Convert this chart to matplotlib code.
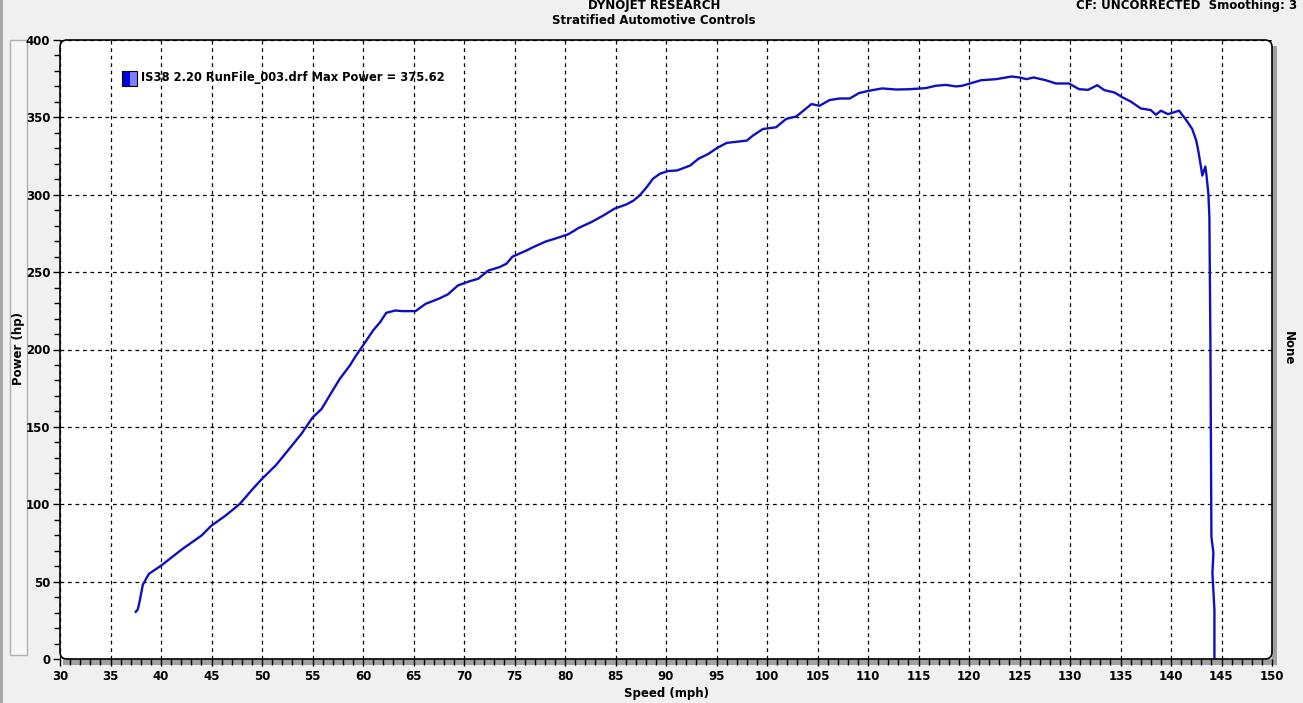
import matplotlib
matplotlib.use("Agg")
import matplotlib.pyplot as plt
from matplotlib.patches import FancyBboxPatch, Rectangle
from matplotlib.ticker import MultipleLocator

# ── data ───────────────────────────────────────────────────────────────────────
speed_mph = [37.5, 37.7, 37.9, 38.2, 38.8, 40.0, 42.1, 44.0, 45.0, 46.4,
             47.8, 49.1, 50.0, 51.4, 52.7, 53.9, 55.0, 55.9, 56.7, 57.7,
             58.7, 59.3, 60.0, 61.0, 61.7, 62.3, 63.2, 63.9, 65.2, 66.2,
             67.5, 68.4, 69.4, 70.5, 71.4, 72.4, 73.5, 74.2, 74.8, 76.2,
             76.8, 78.1, 79.0, 80.3, 80.8, 81.3, 82.6, 83.8, 84.9, 86.1,
             86.8, 87.4, 88.1, 88.7, 89.4, 90.2, 91.1, 92.4, 93.2, 94.2,
             95.0, 96.0, 98.0, 98.6, 99.6, 100.9, 101.9, 102.9, 103.6, 104.4,
             105.2, 106.2, 107.2, 108.2, 109.1, 110.1, 111.4, 112.8, 114.1, 115.7,
             116.7, 117.7, 118.7, 119.3, 120.1, 121.2, 122.7, 124.2, 125.0, 125.7,
             126.4, 127.6, 128.6, 129.9, 130.9, 131.8, 132.7, 133.4, 134.4, 135.2,
             136.0, 137.0, 138.0, 138.5, 139.0, 139.7, 140.8, 141.5, 142.1, 142.5,
             142.7, 143.0, 143.1, 143.4, 143.5, 143.7, 143.8, 143.9, 144.0, 144.2,
             144.1, 144.3, 144.3]
power_hp = [30.5, 32, 37.7, 48, 55, 60.3, 71, 79.7, 86.2, 92.7,
            100.2, 110, 116.4, 125.4, 135.8, 145.5, 156, 161.6, 170.3, 181,
            189.7, 196, 202.6, 212.3, 217.7, 223.7, 225.2, 224.8, 224.8, 229.5,
            232.8, 235.6, 241.4, 244, 245.7, 251, 253.2, 255.4, 260, 264,
            266, 269.8, 271.6, 274.4, 276.3, 278.4, 282.3, 286.6, 291, 293.8,
            296.3, 299.6, 305, 310.3, 313.6, 315.3, 315.7, 318.9, 323.2, 326.4,
            330, 333.5, 335, 338.2, 342.5, 343.6, 349, 350.6, 354.3, 358.6,
            357.5, 361.2, 362.2, 362.2, 365.7, 367.2, 368.7, 368, 368.2, 368.9,
            370.4, 371, 370, 370.4, 371.9, 374, 374.7, 376.4, 375.8, 374.7,
            375.8, 374, 371.9, 371.9, 368.2, 367.8, 370.8, 367.6, 366.1, 362.9,
            360.3, 355.8, 354.7, 351.7, 354.3, 352.1, 354.3, 348.3, 342.5, 335,
            328.5, 316.7, 312.4, 318.2, 313.5, 300.6, 285.8, 206, 79, 68.5,
            55.6, 31.7, 0]

x_ticks = list(range(30, 151, 5))
y_ticks = list(range(0, 401, 50))
legend_label = "IS38 2.20 RunFile_003.drf Max Power = 375.62"

# ── canvas ─────────────────────────────────────────────────────────────────────
W, H = 1303, 703
fig = plt.figure(figsize=(W / 100, H / 100), dpi=100)
fig.patch.set_facecolor("#f0f0f0")

L, R, T, B = 60, 1272, 40, 659   # plot box in pixels
ax = fig.add_axes([L / W, 1 - B / H, (R - L) / W, (B - T) / H])
ax.set_facecolor("white")
for s in ax.spines.values():
    s.set_visible(False)

# shadow + rounded frame (pixel coordinates)
fig.add_artist(Rectangle((R, H - B - 6), 5, B - T, transform=None,
                         facecolor="#a0a0a0", edgecolor="none", zorder=0))
fig.add_artist(Rectangle((L + 3, H - B - 6), R - L + 2, 6, transform=None,
                         facecolor="#a0a0a0", edgecolor="none", zorder=0))
fig.add_artist(FancyBboxPatch((L, H - B), R - L, B - T, transform=None,
                              boxstyle="round,pad=0,rounding_size=7",
                              facecolor="none", edgecolor="black",
                              linewidth=1.2, zorder=5))

# left side panel + edge strip
fig.add_artist(Rectangle((10, H - 655), 17, 655 - 40, transform=None,
                         facecolor="#f6f6f6", edgecolor="#b0b0b0",
                         linewidth=1.0, zorder=0))
fig.add_artist(Rectangle((0, 0), 3, H, transform=None,
                         facecolor="#a8a8a8", edgecolor="none", zorder=0))

# ── curve ──────────────────────────────────────────────────────────────────────
ax.plot(speed_mph, power_hp, color="#1010c0", linewidth=1.7, zorder=3,
        solid_joinstyle="round")

ax.set_xlim(30, 150)
ax.set_ylim(0, 400)
ax.set_xticks(x_ticks)
ax.set_yticks(y_ticks)
ax.xaxis.set_minor_locator(MultipleLocator(1))
ax.yaxis.set_minor_locator(MultipleLocator(10))
ax.grid(True, which="major", color="black", linestyle=(0, (3, 3)),
        linewidth=0.9)
ax.tick_params(axis="both", which="both", direction="out", color="black",
               width=1.0)
ax.tick_params(axis="x", which="major", length=5, pad=3)
ax.tick_params(axis="x", which="minor", length=4)
ax.tick_params(axis="y", which="major", length=5, pad=2)
ax.tick_params(axis="y", which="minor", length=4)

lab_font = dict(fontsize=8.5, fontweight="bold", family="DejaVu Sans")
ax.set_xticklabels([str(v) for v in x_ticks], **lab_font)
ax.set_yticklabels([str(v) for v in y_ticks], **lab_font)

ax.set_xlabel("Speed (mph)", labelpad=3, **lab_font)
fig.text(19 / W, 1 - 348 / H, "Power (hp)", rotation=90,
         ha="center", va="center", **lab_font)
fig.text(1288 / W, 1 - 348 / H, "None", rotation=-90,
         ha="center", va="center", **lab_font)

# ── titles ─────────────────────────────────────────────────────────────────────
fig.text(654 / W, 1 - 6 / H, "DYNOJET RESEARCH", ha="center", va="center",
         **lab_font)
fig.text(654 / W, 1 - 20 / H, "Stratified Automotive Controls",
         ha="center", va="center", **lab_font)
fig.text(1297 / W, 1 - 6 / H, "CF: UNCORRECTED  Smoothing: 3",
         ha="right", va="center", **lab_font)

# ── legend swatch ──────────────────────────────────────────────────────────────
fig.add_artist(Rectangle((122, H - 86), 8, 15, transform=None,
                         facecolor="#0000e0", edgecolor="none", zorder=6))
fig.add_artist(Rectangle((130, H - 86), 7, 15, transform=None,
                         facecolor="#8080ff", edgecolor="none", zorder=6))
fig.add_artist(Rectangle((122, H - 86), 15, 15, transform=None,
                         facecolor="none", edgecolor="black", linewidth=0.8,
                         zorder=7))
fig.text(141 / W, 1 - 78 / H, legend_label, ha="left", va="center",
         zorder=7, fontsize=8.3, fontweight="bold", family="DejaVu Sans")

fig.savefig("out.png", dpi=100, facecolor=fig.get_facecolor())
